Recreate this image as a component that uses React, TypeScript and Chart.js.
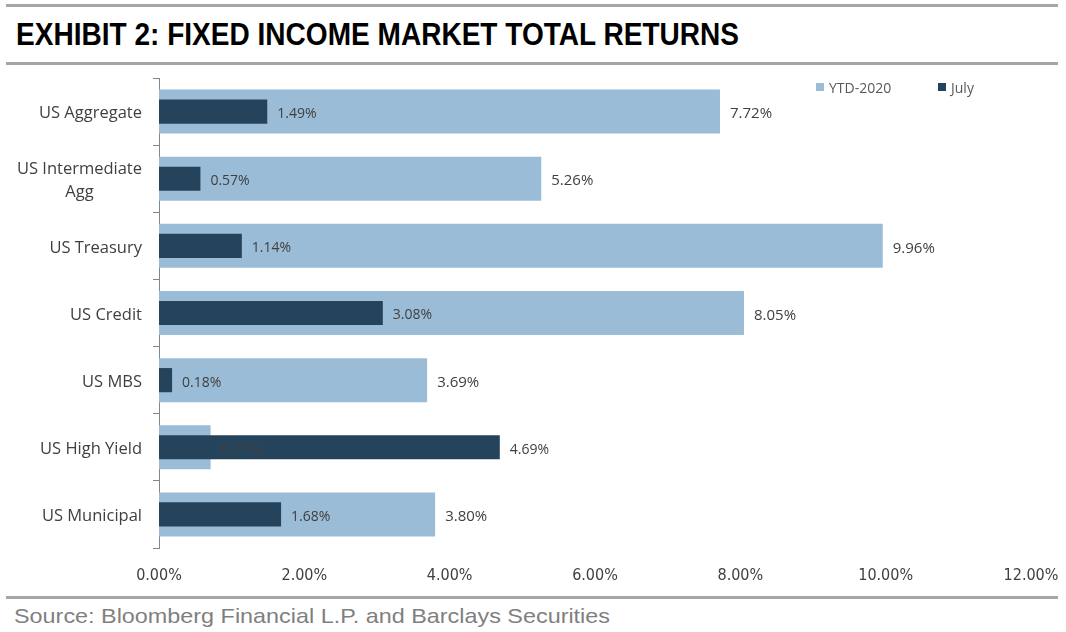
import React, { useEffect, useLayoutEffect, useRef } from "react";
import { Chart, registerables } from "chart.js";

Chart.register(...registerables);

const categories: string[][] = [
  ["US Aggregate"],
  ["US Intermediate", "Agg"],
  ["US Treasury"],
  ["US Credit"],
  ["US MBS"],
  ["US High Yield"],
  ["US Municipal"],
];
const ytd2020 = [7.72, 5.26, 9.96, 8.05, 3.69, 0.71, 3.8];
const july = [1.49, 0.57, 1.14, 3.08, 0.18, 4.69, 1.68];
const seriesNames = ["YTD-2020", "July"];
const xMin = 0;
const xMax = 12;
const xStep = 2;

const LIGHT = "#9abcd7";
const DARK = "#25445b";
const TEXT = "#404040";
const AXIS = "#868686";
const RULE = "#a6a6a6";

const valueLabels = {
  id: "valueLabels",
  afterDatasetsDraw(chart: any) {
    const ctx = chart.ctx;
    chart.data.datasets.forEach((ds: any, di: number) => {
      const meta = chart.getDatasetMeta(di);
      meta.data.forEach((el: any, i: number) => {
        const v = ds.data[i] as number;
        ctx.save();
        ctx.font = di === 0 ? "15px 'Open Sans'" : "14px 'Open Sans'";
        ctx.fillStyle = TEXT;
        ctx.textAlign = "left";
        ctx.textBaseline = "middle";
        ctx.fillText(v.toFixed(2) + "%", el.x + 10, el.y + 2.5);
        ctx.restore();
      });
    });
  },
};

const yLabels = {
  id: "yLabels",
  afterDraw(chart: any) {
    const ctx = chart.ctx;
    const y = chart.scales.y;
    const right = chart.chartArea.left - 17;
    const lh = 23;
    ctx.save();
    ctx.font = "16.5px 'Open Sans'";
    ctx.fillStyle = TEXT;
    ctx.textBaseline = "middle";
    ctx.textAlign = "center";
    categories.forEach((lines, i) => {
      const cy = y.getPixelForValue(i) + 2;
      const w = Math.max(...lines.map((l) => ctx.measureText(l).width));
      const cx = right - w / 2;
      const y0 = cy - ((lines.length - 1) * lh) / 2;
      lines.forEach((l, k) => ctx.fillText(l, cx, y0 + k * lh));
    });
    ctx.restore();
  },
};

function ScaledText(props: { text: string; width: number; style: React.CSSProperties }) {
  const ref = useRef<HTMLSpanElement>(null);
  useLayoutEffect(() => {
    const el = ref.current;
    if (!el) return;
    el.style.transform = "none";
    const w = el.getBoundingClientRect().width;
    if (w > 0) el.style.transform = `scaleX(${props.width / w})`;
  }, [props.text, props.width]);
  return (
    <span
      ref={ref}
      style={{ ...props.style, display: "inline-block", whiteSpace: "nowrap", transformOrigin: "left top" }}
    >
      {props.text}
    </span>
  );
}

export default function App() {
  const canvasRef = useRef<HTMLCanvasElement>(null);

  useEffect(() => {
    const canvas = canvasRef.current;
    if (!canvas) return;
    const chart = new Chart(canvas, {
      type: "bar",
      data: {
        labels: categories.map((c) => c.join(" ")),
        datasets: [
          {
            label: seriesNames[0],
            data: ytd2020,
            backgroundColor: LIGHT,
            borderWidth: 0,
            barPercentage: 0.655,
            categoryPercentage: 1,
            grouped: false,
            order: 2,
          },
          {
            label: seriesNames[1],
            data: july,
            backgroundColor: DARK,
            borderWidth: 0,
            barPercentage: 0.36,
            categoryPercentage: 1,
            grouped: false,
            order: 1,
          },
        ],
      },
      options: {
        indexAxis: "y",
        responsive: false,
        animation: false,
        devicePixelRatio: 1,
        layout: { padding: { left: 0, right: 35, top: 14, bottom: 0 } },
        plugins: {
          legend: { display: false },
          tooltip: { enabled: false },
          title: { display: false },
        },
        scales: {
          x: {
            type: "linear",
            position: "bottom",
            min: xMin,
            max: xMax,
            ticks: {
              stepSize: xStep,
              padding: 18,
              color: TEXT,
              font: { family: "'Liberation Sans Narrow', 'DejaVu Sans Condensed', 'Liberation Sans'", size: 16 },
              callback: (v: any) => Number(v).toFixed(2) + "%",
              maxRotation: 0,
            },
            grid: { display: false, drawTicks: false },
            border: { display: false },
            afterFit: (s: any) => {
              s.height = 46;
              s.paddingLeft = 0;
              s.paddingRight = 0;
            },
          },
          y: {
            type: "category",
            position: "left",
            z: 1,
            ticks: { display: false },
            grid: {
              display: true,
              drawOnChartArea: false,
              drawTicks: true,
              tickLength: 6,
              color: AXIS,
              offset: true,
            },
            border: { display: true, color: AXIS, width: 1 },
            afterFit: (s: any) => {
              s.width = 159;
              s.paddingTop = 0;
              s.paddingBottom = 0;
            },
          },
        },
      },
      plugins: [valueLabels, yLabels],
    } as any);
    return () => chart.destroy();
  }, []);

  const rule = (top: number): React.CSSProperties => ({
    position: "absolute",
    left: 6,
    width: 1052,
    top,
    height: 3,
    background: RULE,
  });

  const legendStyle: React.CSSProperties = {
    position: "absolute",
    top: 79,
    height: 16,
    display: "flex",
    alignItems: "center",
    fontFamily: "'Open Sans', sans-serif",
    fontSize: 14,
    color: "#595959",
  };

  return (
    <div style={{ position: "absolute", left: 0, top: 0, width: 1066, height: 632, background: "#fff", overflow: "hidden" }}>
      <div style={rule(4)} />
      <div style={{ position: "absolute", left: 16, top: 19 }}>
        <ScaledText
          text="EXHIBIT 2: FIXED INCOME MARKET TOTAL RETURNS"
          width={723}
          style={{ fontFamily: "'Liberation Sans', Arial, sans-serif", fontWeight: 700, fontSize: 31, lineHeight: "31px", color: "#000" }}
        />
      </div>
      <div style={rule(62)} />
      <canvas ref={canvasRef} width={1066} height={530} style={{ position: "absolute", left: 0, top: 64, width: 1066, height: 530 }} />
      <div style={{ ...legendStyle, left: 816 }}>
        <span style={{ display: "inline-block", width: 8, height: 8, background: LIGHT, marginRight: 5 }} />
        <span>{seriesNames[0]}</span>
      </div>
      <div style={{ ...legendStyle, left: 938 }}>
        <span style={{ display: "inline-block", width: 8, height: 8, background: DARK, marginRight: 5 }} />
        <span>{seriesNames[1]}</span>
      </div>
      <div style={rule(596)} />
      <div style={{ position: "absolute", left: 14, top: 605 }}>
        <ScaledText
          text="Source: Bloomberg Financial L.P. and Barclays Securities"
          width={596}
          style={{ fontFamily: "'Liberation Sans', Arial, sans-serif", fontSize: 21, lineHeight: "21px", color: "#7f7f7f" }}
        />
      </div>
    </div>
  );
}
